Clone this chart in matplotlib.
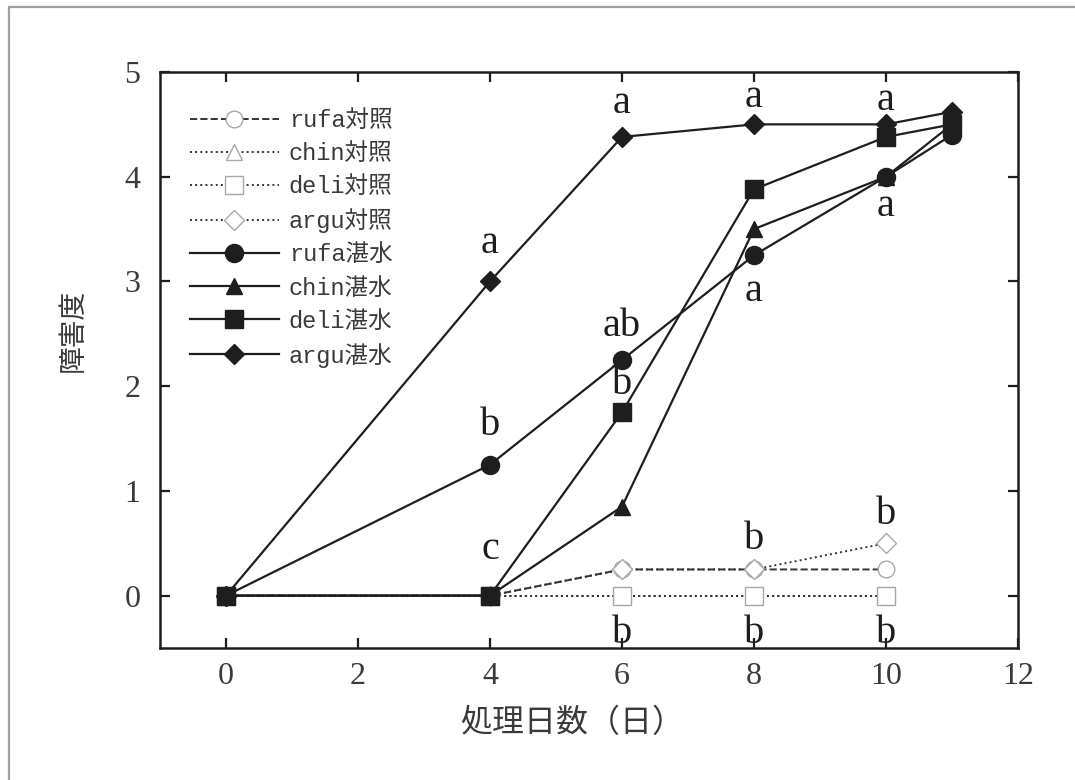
"""
Injury score of four species under flooding vs. control over treatment days.
"""

import matplotlib
matplotlib.use('Agg')
import matplotlib.pyplot as plt
from matplotlib.patches import Rectangle

LATIN = 'Liberation Serif'
MONO = 'Liberation Mono'
CJK = 'Noto Sans CJK JP'
plt.rcParams['font.family'] = [LATIN, CJK]

# Days after treatment start
days_ctrl = [0, 4, 6, 8, 10]
days_flood = [0, 4, 6, 8, 10, 11]

# Injury scores, control plants
rufa_ctrl = [0, 0, 0.25, 0.25, 0.25]
chin_ctrl = [0, 0, 0, 0, 0]
deli_ctrl = [0, 0, 0, 0, 0]
argu_ctrl = [0, 0, 0.25, 0.25, 0.5]

# Injury scores, flooded plants
rufa_flood = [0, 1.25, 2.25, 3.25, 4.0, 4.4]
chin_flood = [0, 0, 0.85, 3.5, 4.0, 4.5]
deli_flood = [0, 0, 1.75, 3.88, 4.38, 4.5]
argu_flood = [0, 3.0, 4.38, 4.5, 4.5, 4.62]

# Significance letters: (day, y position, letter)
sig_x = [6, 8, 10, 4, 10, 8, 6, 6, 4, 4, 8, 10, 6, 8, 10]
sig_y = [4.7, 4.76, 4.73, 3.36, 3.72, 2.9, 2.57, 2.02, 1.62, 0.44, 0.54, 0.77, -0.36, -0.36, -0.36]
sig_txt = ['a', 'a', 'a', 'a', 'a', 'a', 'ab', 'b', 'b', 'c', 'b', 'b', 'b', 'b', 'b']

DARK = '#1e1e1e'
GRAY = '#a8a8a8'
TXT = '#3a3a3a'

fig = plt.figure(figsize=(10.75, 7.8), dpi=100)
ax = fig.add_axes([160 / 1075, 1 - 648 / 780, (1018 - 160) / 1075, (648 - 72) / 780])

# page frame
fig.patches.append(Rectangle((9 / 1075, -0.05), 1.2, 1 - 7 / 780 + 0.05,
                             transform=fig.transFigure, fill=False,
                             edgecolor='#a0a0a0', linewidth=1.6, zorder=0))

ctrl = [
    (rufa_ctrl, 'o', '--', 12, 'rufa対照'),
    (chin_ctrl, '^', ':', 11, 'chin対照'),
    (deli_ctrl, 's', ':', 13, 'deli対照'),
    (argu_ctrl, 'D', ':', 10, 'argu対照'),
]
for vals, mk, ls, ms, lab in ctrl:
    ax.plot(days_ctrl, vals, linestyle=ls, color='#333333', linewidth=1.4,
            marker=mk, markersize=ms, markerfacecolor='white',
            markeredgecolor=GRAY, markeredgewidth=1.0, label=lab, zorder=2)

flood = [
    (rufa_flood, 'o', 13, 'rufa湛水'),
    (chin_flood, '^', 11, 'chin湛水'),
    (deli_flood, 's', 13, 'deli湛水'),
    (argu_flood, 'D', 10, 'argu湛水'),
]
for vals, mk, ms, lab in flood:
    ax.plot(days_flood, vals, linestyle='-', color=DARK, linewidth=1.6,
            marker=mk, markersize=ms, markerfacecolor=DARK,
            markeredgecolor=DARK, label=lab, zorder=3)

for x, y, t in zip(sig_x, sig_y, sig_txt):
    ax.text(x, y, t, ha='center', va='center', fontsize=29,
            family=LATIN, color=DARK, zorder=4)

ax.set_xlim(-1, 12)
ax.set_ylim(-0.5, 5)
ax.set_xticks([0, 2, 4, 6, 8, 10, 12])
ax.set_yticks([0, 1, 2, 3, 4, 5])

for s in ax.spines.values():
    s.set_linewidth(1.8)
    s.set_color(DARK)
ax.tick_params(direction='in', top=True, right=True, length=7, width=1.6,
               color=DARK, labelsize=23, labelcolor=TXT)
ax.tick_params(axis='x', pad=10)
ax.tick_params(axis='y', pad=14)

ax.set_xlabel('処理日数（日）', family=[CJK], fontsize=23, color=TXT)
ax.xaxis.set_label_coords((572 - 160) / (1018 - 160), -(707 - 648) / (648 - 72))
ax.set_ylabel('障害度', family=[CJK], fontsize=20, color=TXT)
ax.yaxis.set_label_coords(-(160 - 88) / (1018 - 160), (648 - 330) / (648 - 72))

leg = ax.legend(loc='upper left', bbox_to_anchor=(0.029, 0.944), frameon=True,
                framealpha=1, edgecolor='none', facecolor='white',
                numpoints=1, handlelength=3.8, handletextpad=0.4,
                labelspacing=0.43, borderpad=0.2, borderaxespad=0,
                prop={'family': [MONO, CJK], 'size': 17})
for t in leg.get_texts():
    t.set_color(TXT)
leg.set_zorder(5)

fig.savefig('out.png', dpi=100, facecolor='white')
